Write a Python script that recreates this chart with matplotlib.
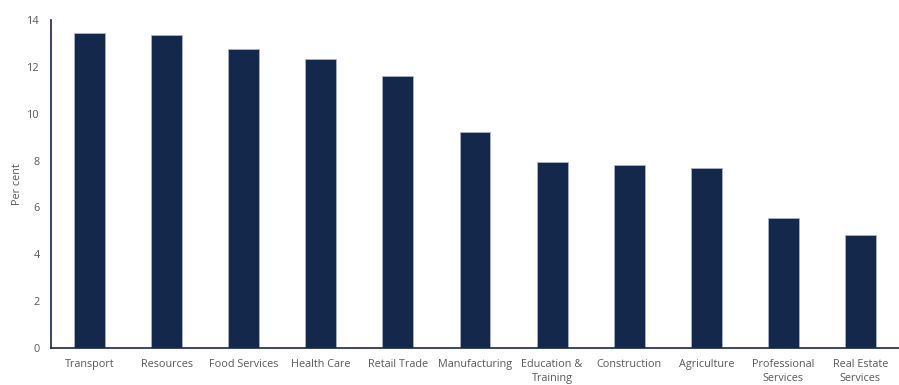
import matplotlib.pyplot as plt

categories = ["Transport", "Resources", "Food Services", "Health Care", "Retail Trade",
              "Manufacturing", "Education &\nTraining", "Construction", "Agriculture",
              "Professional\nServices", "Real Estate\nServices"]
values = [13.45, 13.34, 12.77, 12.32, 11.63, 9.2, 7.93, 7.8, 7.68, 5.55, 4.84]
yticks = [0, 2, 4, 6, 8, 10, 12, 14]

navy = "#14284b"
grey = "#595959"

plt.rcParams['font.family'] = ['Open Sans', 'DejaVu Sans']

fig = plt.figure(figsize=(8.99, 3.85), dpi=100)
ax = fig.add_axes([51 / 899, 1 - 348 / 385, 848 / 899, 328 / 385])

x = range(len(categories))
ax.bar(x, values, width=0.4, color=navy, edgecolor="#aab4c8", linewidth=0.6)

ax.set_xlim(-0.5, len(categories) - 0.5)
ax.set_ylim(0, 14)
ax.set_yticks(yticks)
ax.set_xticks(list(x))
ax.set_xticklabels(categories, fontsize=7.8, color=grey, linespacing=1.3)
ax.tick_params(axis="y", labelsize=7.8, labelcolor=grey, length=0, pad=8)
ax.tick_params(axis="x", length=0, pad=8)
ax.set_ylabel("Per cent", fontsize=7.8, color=grey)
ax.yaxis.set_label_coords(-28 / 848, 0.5)

for side in ["top", "right"]:
    ax.spines[side].set_visible(False)
for side in ["left", "bottom"]:
    ax.spines[side].set_color(navy)
    ax.spines[side].set_linewidth(1.2)

fig.savefig("out.png", dpi=100)
